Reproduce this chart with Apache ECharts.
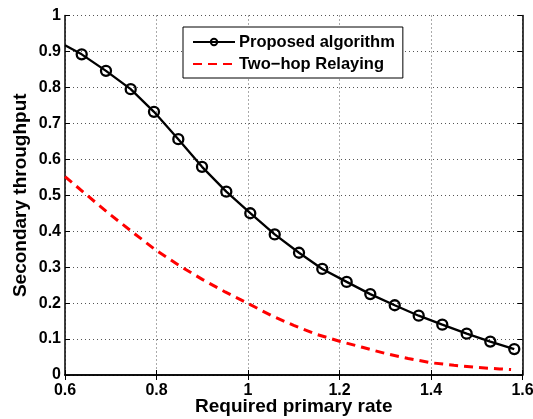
<!DOCTYPE html>
<html>
<head>
<meta charset="utf-8">
<script src="https://cdn.jsdelivr.net/npm/echarts@6/dist/echarts.min.js"></script>
<style>
  html, body { margin: 0; padding: 0; background: #fff; }
  #chart { width: 533px; height: 419px; }
</style>
</head>
<body>
<div id="chart"></div>
<script>
// values
let propX = [0.6, 0.6365, 0.6896, 0.7436, 0.7945, 0.8477, 0.8995, 0.9526, 1.005, 1.0584, 1.1115,
             1.1624, 1.2157, 1.2673, 1.3207, 1.3731, 1.4247, 1.478, 1.5296, 1.582];
let propY = [0.917, 0.892, 0.846, 0.795, 0.732, 0.656, 0.579, 0.510, 0.450, 0.391, 0.340,
             0.295, 0.259, 0.225, 0.194, 0.165, 0.140, 0.115, 0.093, 0.072];
let relayX = [0.6, 0.65, 0.7, 0.75, 0.8, 0.85, 0.9, 0.95, 1.0, 1.05, 1.1, 1.15,
              1.2, 1.25, 1.3, 1.35, 1.4, 1.45, 1.5, 1.55, 1.575];
let relayY = [0.552, 0.498, 0.445, 0.395, 0.346, 0.304, 0.266, 0.231, 0.199, 0.166, 0.138, 0.113,
              0.094, 0.077, 0.060, 0.046, 0.034, 0.027, 0.021, 0.017, 0.015];
let seriesNames = ['Proposed algorithm', 'Two\u2212hop Relaying'];
let xTitle = 'Required primary rate';
let yTitle = 'Secondary throughput';

let chart = echarts.init(document.getElementById('chart'));
let font = 'Liberation Sans, Arial, Helvetica, sans-serif';

let propData = [];
for (let i = 0; i < propX.length; i++) {
    let item = {value: [propX[i], propY[i]]};
    if (i === 0) item.symbol = 'none';  // line enters from the edge, no marker there
    propData.push(item);
}
let relayData = relayX.map((x, i) => [x, relayY[i]]);

function fmt(v) { return String(+v.toFixed(1)); }

let tickStyle = {inside: true, length: 5, lineStyle: {color: '#000', width: 1}};
let lineStyle = {lineStyle: {color: '#000', width: 1.5}};

let option = {
    animation: false,
    backgroundColor: '#fff',
    grid: {left: 65, right: 10.5, top: 15.5, bottom: 44, containLabel: false, outerBoundsMode: 'none'},
    legend: {
        orient: 'vertical',
        left: 183,
        top: 27,
        backgroundColor: '#fff',
        borderColor: '#000',
        borderWidth: 1,
        borderRadius: 0,
        padding: [6, 8, 5, 9],
        itemGap: 4,
        itemWidth: 42,
        itemHeight: 8,
        textStyle: {fontFamily: font, fontWeight: 'bold', fontSize: 16.5, color: '#000', lineHeight: 18, padding: [0, 0, 0, -1]},
        data: [
            {name: seriesNames[0]},
            {name: seriesNames[1], itemStyle: {opacity: 0}}
        ]
    },
    xAxis: [{
        type: 'value', min: 0.6, max: 1.6, interval: 0.2,
        name: xTitle, nameLocation: 'middle', nameGap: 22, nameMoveOverlap: false,
        nameTextStyle: {fontFamily: font, fontWeight: 'bold', fontSize: 19, color: '#000'},
        axisLine: lineStyle, axisTick: tickStyle,
        axisLabel: {formatter: fmt, fontFamily: font, fontWeight: 'bold', fontSize: 16, color: '#000', margin: 8},
        splitLine: {show: true, lineStyle: {color: '#555', width: 1, type: [1, 3]}}
    }, {
        type: 'value', position: 'top', min: 0.6, max: 1.6, interval: 0.2,
        axisLine: lineStyle, axisTick: tickStyle,
        axisLabel: {show: false}, splitLine: {show: false}
    }],
    yAxis: [{
        type: 'value', min: 0, max: 1, interval: 0.1,
        name: yTitle, nameLocation: 'middle', nameGap: 35, nameMoveOverlap: false,
        nameTextStyle: {fontFamily: font, fontWeight: 'bold', fontSize: 19, color: '#000'},
        axisLine: {show: true, lineStyle: {color: '#000', width: 1.5}}, axisTick: tickStyle,
        axisLabel: {formatter: fmt, fontFamily: font, fontWeight: 'bold', fontSize: 16, color: '#000', margin: 4},
        splitLine: {show: true, lineStyle: {color: '#555', width: 1, type: [1, 3]}}
    }, {
        type: 'value', position: 'right', min: 0, max: 1, interval: 0.1,
        axisLine: {show: true, lineStyle: {color: '#000', width: 1.5}}, axisTick: tickStyle,
        axisLabel: {show: false}, splitLine: {show: false}
    }],
    series: [{
        name: seriesNames[0],
        type: 'line',
        data: propData,
        symbol: 'circle',
        symbolSize: 10,
        showAllSymbol: true,
        lineStyle: {color: '#000', width: 2.3},
        itemStyle: {color: 'rgba(255,255,255,0)', borderColor: '#000', borderWidth: 2.3},
        z: 3
    }, {
        name: seriesNames[1],
        type: 'line',
        data: relayData,
        symbol: 'none',
        smooth: false,
        lineStyle: {color: '#ff0000', width: 3, type: [9, 6]},
        itemStyle: {color: '#ff0000'},
        z: 2
    }]
};

chart.setOption(option);
</script>
</body>
</html>
